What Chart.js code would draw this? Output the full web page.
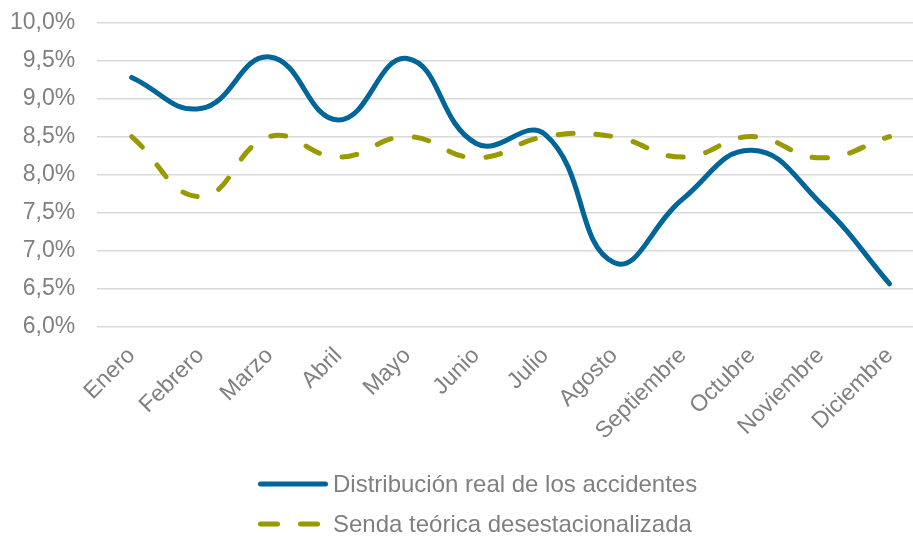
<!DOCTYPE html>
<html>
<head>
<meta charset="utf-8">
<script src="https://cdn.jsdelivr.net/npm/chart.js@4"></script>
<style>
  html, body { margin: 0; padding: 0; background: #fff; }
  #wrap { position: relative; width: 913px; height: 537px; overflow: hidden; }
  #lienzo { width: 924px; height: 537px; }
  #leyenda { position: absolute; left: 256px; top: 472px; font: 24px 'Liberation Sans', Arial, sans-serif; color: #808080; }
  .item { display: flex; align-items: center; height: 24px; margin-bottom: 16px; white-space: nowrap; }
  .item canvas { margin-right: 3px; }
</style>
</head>
<body>
<div id="wrap">
  <div id="lienzo"><canvas id="myChart"></canvas></div>
  <div id="leyenda"></div>
</div>
<script>
const meses = ['Enero', 'Febrero', 'Marzo', 'Abril', 'Mayo', 'Junio', 'Julio', 'Agosto', 'Septiembre', 'Octubre', 'Noviembre', 'Diciembre']
const distribucionReal = [9.28, 8.87, 9.55, 8.72, 9.53, 8.41, 8.53, 6.84, 7.68, 8.32, 7.62, 6.56]
const sendaTeorica = [8.5, 7.71, 8.5, 8.23, 8.5, 8.22, 8.5, 8.5, 8.23, 8.5, 8.22, 8.5]
const ejeY = { min: 6, max: 10, paso: 0.5 }

const gris = '#808080'
const fuente = 'Liberation Sans, Arial, sans-serif'
const ctx = document.getElementById('myChart')

const chart = new Chart(ctx, {
  type: 'line',
  data: {
    labels: meses,
    datasets: [
      {
        label: 'Distribución real de los accidentes',
        data: distribucionReal,
        borderColor: '#006699',
        borderWidth: 5,
        borderCapStyle: 'round',
        pointRadius: 0,
        tension: 0.45
      },
      {
        label: 'Senda teórica desestacionalizada',
        data: sendaTeorica,
        borderColor: '#999900',
        borderWidth: 5,
        borderCapStyle: 'round',
        borderDash: [15, 23],
        pointRadius: 0,
        tension: 0.45
      }
    ]
  },
  options: {
    responsive: true,
    maintainAspectRatio: false,
    animation: false,
    layout: { padding: { top: 3, left: 1, right: 0, bottom: 84 } },
    plugins: {
      tooltip: { enabled: false },
      legend: { display: false }
    },
    scales: {
      x: {
        offset: true,
        grid: { display: false },
        border: { display: false },
        ticks: {
          color: gris,
          minRotation: 45,
          maxRotation: 45,
          padding: 8,
          font: { family: fuente, size: 23 }
        }
      },
      y: {
        min: ejeY.min,
        max: ejeY.max,
        border: { display: false },
        grid: { color: '#d9d9d9', lineWidth: 1.5, tickLength: 13, tickColor: 'transparent' },
        ticks: {
          stepSize: ejeY.paso,
          color: gris,
          padding: 9,
          font: { family: fuente, size: 23 },
          callback: v => v.toFixed(1).replace('.', ',') + '%'
        }
      }
    }
  }
})

// leyenda en dos filas, como en el original
const leyenda = document.getElementById('leyenda')
chart.data.datasets.forEach(ds => {
  const item = document.createElement('div')
  item.className = 'item'
  const muestra = document.createElement('canvas')
  muestra.width = 74
  muestra.height = 10
  const c = muestra.getContext('2d')
  c.strokeStyle = ds.borderColor
  c.lineWidth = 5
  c.lineCap = 'round'
  if (ds.borderDash) c.setLineDash([17, 23])
  c.beginPath()
  c.moveTo(4.5, 5)
  c.lineTo(69.5, 5)
  c.stroke()
  const texto = document.createElement('span')
  texto.textContent = ds.label
  item.appendChild(muestra)
  item.appendChild(texto)
  leyenda.appendChild(item)
})
</script>
</body>
</html>
